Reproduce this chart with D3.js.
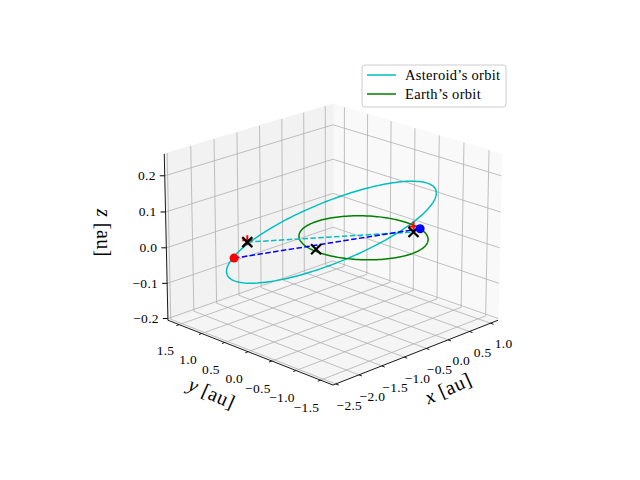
<!DOCTYPE html>
<html><head><meta charset="utf-8">
<script src="https://cdn.jsdelivr.net/npm/d3@7"></script>
<style>body{margin:0;background:#fff}svg{font-family:"Liberation Serif","DejaVu Serif",serif}</style>
</head><body><svg id="c" width="640" height="480"></svg>
<script>
const xLim=[-2.56,1.18], yLim=[-1.75,1.75], zLim=[-0.205,0.26];
const xTicks=[-2.5,-2.0,-1.5,-1.0,-0.5,0.0,0.5,1.0];
const yTicks=[-1.5,-1.0,-0.5,0.0,0.5,1.0,1.5];
const zTicks=[-0.2,-0.1,0.0,0.1,0.2];
const earthRadius=1.0;
const asteroidCenter=[-0.775,-0.075,0.055];
const asteroidAxisA=[1.72,-0.58,0.065];
const asteroidAxisB=[1.0,1.0,0.0];
const earthPos=[0.94,-0.34,0];
const asteroidPos=[-2.01,0.83,-0.01];
const crossPoints=[[-1.47,1.08,0],[0.75,-0.37,0],[-0.73,0.32,-0.017]];
const plusPoints=[[-1.47,1.08,0.005],[0.76,-0.36,0.015]];
const legendLabels=["Asteroid\u2019s orbit","Earth\u2019s orbit"];

const svg=d3.select("#c");
const el=20*Math.PI/180, az=-135*Math.PI/180;
const S=236, D=11.6, cx=333, cy=238;
const sx=d3.scaleLinear().domain(xLim).range([-0.5,0.5]);
const sy=d3.scaleLinear().domain(yLim).range([-0.5,0.5]);
const sz=d3.scaleLinear().domain(zLim).range([-0.375,0.375]);
const ex=[Math.cos(el)*Math.cos(az),Math.cos(el)*Math.sin(az),Math.sin(el)];
const rx=[-Math.sin(az),Math.cos(az),0];
const ux=[-Math.sin(el)*Math.cos(az),-Math.sin(el)*Math.sin(az),Math.cos(el)];
function P(x,y,z){const p=[sx(x),sy(y),sz(z)];
 const dot=v=>v[0]*p[0]+v[1]*p[1]+v[2]*p[2];
 const k=D/(D-dot(ex));return [cx+S*k*dot(rx), cy-S*k*dot(ux)];}
const line=d3.line();
function seg(a,b,st){return svg.append("path").attr("d",line([P(...a),P(...b)])).attr("fill","none").attr("stroke",st.c).attr("stroke-width",st.w);}
const [x0,x1]=xLim,[y0,y1]=yLim,[z0,z1]=zLim;
const pane=(pts,f)=>svg.append("path").attr("d",line(pts.map(p=>P(...p)))+"Z").attr("fill",f).attr("stroke",f);
pane([[x0,y0,z0],[x1,y0,z0],[x1,y1,z0],[x0,y1,z0]],"#f5f5f5");
pane([[x1,y0,z0],[x1,y1,z0],[x1,y1,z1],[x1,y0,z1]],"#f9f9f9");
pane([[x0,y1,z0],[x1,y1,z0],[x1,y1,z1],[x0,y1,z1]],"#f2f2f2");
const g={c:"#b0b0b0",w:0.8};
xTicks.forEach(t=>{seg([t,y0,z0],[t,y1,z0],g);seg([t,y1,z0],[t,y1,z1],g);});
yTicks.forEach(t=>{seg([x0,t,z0],[x1,t,z0],g);seg([x1,t,z0],[x1,t,z1],g);});
zTicks.forEach(t=>{seg([x0,y1,t],[x1,y1,t],g);seg([x1,y1,t],[x1,y0,t],g);});
const ax={c:"#000",w:0.9};
seg([x0,y0,z0],[x1,y0,z0],ax);seg([x0,y0,z0],[x0,y1,z0],ax);seg([x0,y1,z0],[x0,y1,z1],ax);
const txt=(p,s,anchor,size)=>svg.append("text").attr("x",p[0]).attr("y",p[1]).attr("text-anchor",anchor||"middle").attr("dominant-baseline","central").attr("font-size",size||13.5).attr("letter-spacing",0.3).text(s);
const fmt=v=>d3.format(".1f")(v).replace("-","\u2212");
xTicks.forEach(t=>{seg([t,y0,z0],[t,y0-0.06,z0],ax);txt(P(t,y0-0.27,z0-0.045),fmt(t));});
yTicks.forEach(t=>{seg([x0,t,z0],[x0-0.06,t,z0],ax);txt(P(x0-0.3,t,z0-0.06),fmt(t));});
zTicks.forEach(t=>{const p=P(x0,y1,t);svg.append("line").attr("x1",p[0]).attr("x2",p[0]-5).attr("y1",p[1]).attr("y2",p[1]).attr("stroke","#000");txt([p[0]-9,p[1]],fmt(t),"end");});
function label(p,rot,parts){const t=svg.append("text").attr("transform",`translate(${p[0]},${p[1]}) rotate(${rot})`).attr("text-anchor","middle").attr("dominant-baseline","central").attr("font-size",20).attr("letter-spacing",0.5);
 t.append("tspan").attr("font-style","italic").text(parts[0]);t.append("tspan").text(parts[1]);}
label([448,388],-24,["x"," [au]"]);
label([212,393],24,["y"," [au]"]);
label([104,233],90,["z"," [au]"]);
const N=d3.range(0,361,2).map(d=>d*Math.PI/180);
const ast=N.map(t=>P(...[0,1,2].map(i=>asteroidCenter[i]+asteroidAxisA[i]*Math.cos(t)+asteroidAxisB[i]*Math.sin(t))));
const ear=N.map(t=>P(earthRadius*Math.cos(t),earthRadius*Math.sin(t),0));
svg.append("path").attr("d",line(ast)).attr("fill","none").attr("stroke","#00bfbf").attr("stroke-width",1.5);
svg.append("path").attr("d",line(ear)).attr("fill","none").attr("stroke","#008000").attr("stroke-width",1.5);
svg.append("path").attr("d",line([P(...crossPoints[0]),P(...crossPoints[1])])).attr("stroke","#00bfbf").attr("stroke-width",1.5).attr("stroke-dasharray","5.5,2.4");
svg.append("path").attr("d",line([P(...asteroidPos),P(...earthPos)])).attr("stroke","#0000ff").attr("stroke-width",1.5).attr("stroke-dasharray","5.5,2.4");
plusPoints.forEach(q=>{const p=P(...q);svg.append("path").attr("d",`M${p[0]-5},${p[1]}h10M${p[0]},${p[1]-5}v10`).attr("stroke","red").attr("stroke-width",2);});
crossPoints.forEach(q=>{const p=P(...q);svg.append("path").attr("d",`M${p[0]-5},${p[1]-5}l10,10M${p[0]+5},${p[1]-5}l-10,10`).attr("stroke","#000").attr("stroke-width",2.2);});
[[asteroidPos,"red"],[earthPos,"blue"]].forEach(([q,c])=>{const p=P(...q);svg.append("circle").attr("cx",p[0]).attr("cy",p[1]).attr("r",4.5).attr("fill",c);});
svg.append("rect").attr("x",362).attr("y",65).attr("width",144).attr("height",42).attr("rx",3).attr("fill","#fff").attr("fill-opacity",0.8).attr("stroke","#ccc");
[["#00bfbf",0],["#008000",1]].forEach(([c,i])=>{svg.append("line").attr("x1",367).attr("x2",396).attr("y1",75+i*19).attr("y2",75+i*19).attr("stroke",c).attr("stroke-width",1.5);
 txt([405,75+i*19],legendLabels[i],"start",14.5);});
</script></body></html>
